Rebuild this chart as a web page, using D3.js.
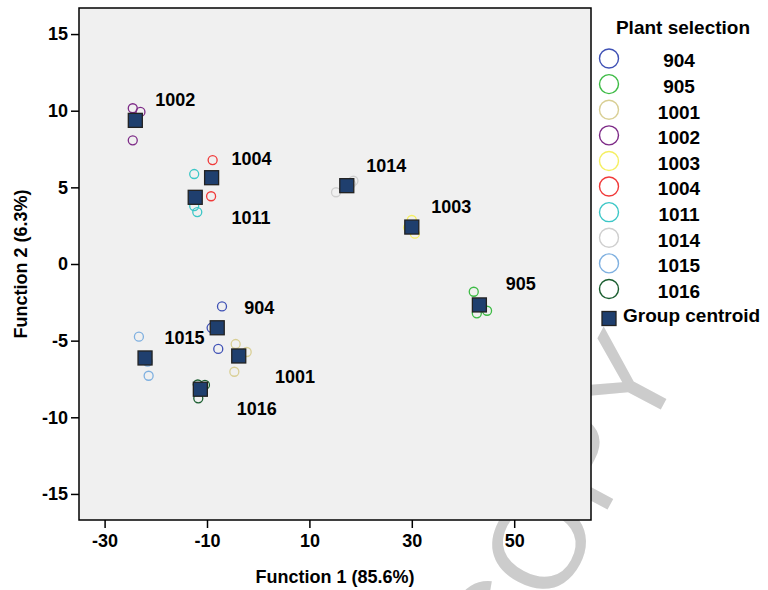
<!DOCTYPE html>
<html>
<head>
<meta charset="utf-8">
<script src="https://cdn.jsdelivr.net/npm/d3@7"></script>
<style>
  body { margin: 0; background: #fff; }
  svg text { font-family: "Liberation Sans", Arial, sans-serif; font-weight: bold; }
</style>
</head>
<body>
<svg id="chart" width="768" height="590"></svg>
<script>
/* global d3 */

// groups (plant selections) and their centroids
const groups = ["904", "905", "1001", "1002", "1003", "1004", "1011", "1014", "1015", "1016"];
const groupColors = ["#3f51b5", "#3dbb45", "#d9cf95", "#7d2a87", "#f5ef62",
                     "#f03a3a", "#3cc7c7", "#cfcfcf", "#7fb0e0", "#1b5e30"];
const centroidF1 = [-8.0, 43.2, -3.8, -24.0, 30.0, -9.1, -12.3, 17.3, -22.1, -11.3];
const centroidF2 = [-4.16, -2.67, -6.0, 9.37, 2.41, 5.63, 4.35, 5.11, -6.13, -8.17];

// group label positions (function units)
const labelF1 = [0.2, 51.3, 7.2, -16.2, 37.7, -1.3, -1.4, 25.0, -14.4, -0.3];
const labelF2 = [-2.82, -1.30, -7.31, 10.70, 3.74, 6.90, 3.05, 6.41, -4.81, -9.41];

// individual cases
const caseGroup = ["904", "904", "904", "905", "905", "905", "1001", "1001", "1001",
                   "1002", "1002", "1002", "1003", "1003", "1003", "1004", "1004",
                   "1011", "1011", "1011", "1014", "1014", "1014", "1015", "1015", "1015",
                   "1016", "1016", "1016"];
const caseF1 = [-7.07, -9.1, -7.8, 42.1, 42.7, 44.7, -4.4, -2.25, -4.66,
                -24.5, -23.0, -24.5, 30.0, 30.6, 29.3, -8.9, -9.2,
                -12.5, -12.5, -11.9, 15.2, 18.6, 18.1, -23.3, -21.4, -21.6,
                -10.4, -11.7, -11.8];
const caseF2 = [-2.77, -4.16, -5.54, -1.81, -3.22, -3.05, -5.22, -5.74, -7.03,
                10.16, 9.92, 8.07, 2.87, 1.98, 2.38, 6.78, 4.42,
                5.87, 3.78, 3.39, 4.68, 5.43, 5.22, -4.74, -7.29, -6.36,
                -7.89, -8.76, -7.86];

const xTicks = [-30, -10, 10, 30, 50];
const yTicks = [-15, -10, -5, 0, 5, 10, 15];

const svg = d3.select("#chart");
const plot = { left: 79, top: 8, width: 512, height: 512 };

const x = d3.scaleLinear().domain([-35, 65]).range([plot.left, plot.left + plot.width]);
const y = d3.scaleLinear().domain([-16.7, 16.7]).range([plot.top + plot.height, plot.top]);
const color = d3.scaleOrdinal().domain(groups).range(groupColors);

// watermark sits under the plot
svg.append("text")
    .attr("transform", "translate(684,366) rotate(-62)")
    .attr("text-anchor", "end")
    .style("font-weight", "normal")
    .style("font-size", "130px")
    .attr("fill", "#cccccc")
    .text("COPY");

// plot background
svg.append("rect")
    .attr("x", plot.left).attr("y", plot.top)
    .attr("width", plot.width).attr("height", plot.height)
    .attr("fill", "#f0f0f0");

// axes (plain hyphen for negatives, like the original)
const fmt = d => String(d);
const xAxis = svg.append("g")
    .attr("transform", `translate(0,${plot.top + plot.height})`)
    .call(d3.axisBottom(x).tickValues(xTicks).tickFormat(fmt).tickSize(8).tickPadding(6));
const yAxis = svg.append("g")
    .attr("transform", `translate(${plot.left},0)`)
    .call(d3.axisLeft(y).tickValues(yTicks).tickFormat(fmt).tickSize(8).tickPadding(3));

[xAxis, yAxis].forEach(g => {
    g.select(".domain").remove();
    g.selectAll("line").attr("stroke", "#000").attr("stroke-width", 1.5);
    g.selectAll("text").style("font-size", "18px").attr("fill", "#000")
        .style("font-family", "'Liberation Sans', Arial, sans-serif");
});

// case circles
svg.append("g")
    .selectAll("circle")
    .data(caseGroup.map((g, i) => ({ g, f1: caseF1[i], f2: caseF2[i] })))
    .enter()
    .append("circle")
    .attr("cx", d => x(d.f1))
    .attr("cy", d => y(d.f2))
    .attr("r", 4.5)
    .attr("fill", "none")
    .attr("stroke", d => color(d.g))
    .attr("stroke-width", 1.3);

// centroids
svg.append("g")
    .selectAll("rect")
    .data(groups.map((g, i) => ({ g, f1: centroidF1[i], f2: centroidF2[i] })))
    .enter()
    .append("rect")
    .attr("x", d => x(d.f1) - 7)
    .attr("y", d => y(d.f2) - 7)
    .attr("width", 14)
    .attr("height", 14)
    .attr("fill", "#1f3f6e")
    .attr("stroke", "#222")
    .attr("stroke-width", 1.3);

// group labels
svg.append("g")
    .selectAll("text")
    .data(groups.map((g, i) => ({ g, f1: labelF1[i], f2: labelF2[i] })))
    .enter()
    .append("text")
    .attr("x", d => x(d.f1))
    .attr("y", d => y(d.f2))
    .attr("dy", "0.36em")
    .attr("text-anchor", "middle")
    .style("font-size", "18px")
    .text(d => d.g);

// plot frame
svg.append("rect")
    .attr("x", plot.left).attr("y", plot.top)
    .attr("width", plot.width).attr("height", plot.height)
    .attr("fill", "none")
    .attr("stroke", "#000")
    .attr("stroke-width", 1.5);

// axis titles
svg.append("text")
    .attr("x", plot.left + plot.width / 2)
    .attr("y", 583)
    .attr("text-anchor", "middle")
    .style("font-size", "18px")
    .text("Function 1 (85.6%)");

svg.append("text")
    .attr("transform", `translate(27,${plot.top + plot.height / 2}) rotate(-90)`)
    .attr("text-anchor", "middle")
    .style("font-size", "18px")
    .text("Function 2 (6.3%)");

// legend
const legend = svg.append("g");
legend.append("text")
    .attr("x", 683).attr("y", 34)
    .attr("text-anchor", "middle")
    .style("font-size", "19px")
    .text("Plant selection");

const legendY = d3.scalePoint().domain(groups).range([58.5, 289]);

const item = legend.selectAll(".item")
    .data(groups)
    .enter()
    .append("g")
    .attr("class", "item")
    .attr("transform", d => `translate(0,${legendY(d)})`);

item.append("circle")
    .attr("cx", 609).attr("cy", 0)
    .attr("r", 9.5)
    .attr("fill", "none")
    .attr("stroke", d => color(d))
    .attr("stroke-width", 1.4);

item.append("text")
    .attr("x", 679).attr("y", 2)
    .attr("dy", "0.36em")
    .attr("text-anchor", "middle")
    .style("font-size", "19px")
    .text(d => d);

legend.append("rect")
    .attr("x", 602).attr("y", 311.5)
    .attr("width", 14).attr("height", 14)
    .attr("fill", "#1f3f6e")
    .attr("stroke", "#222")
    .attr("stroke-width", 1.3);

legend.append("text")
    .attr("x", 623).attr("y", 322)
    .style("font-size", "19px")
    .text("Group centroid");
</script>
</body>
</html>
